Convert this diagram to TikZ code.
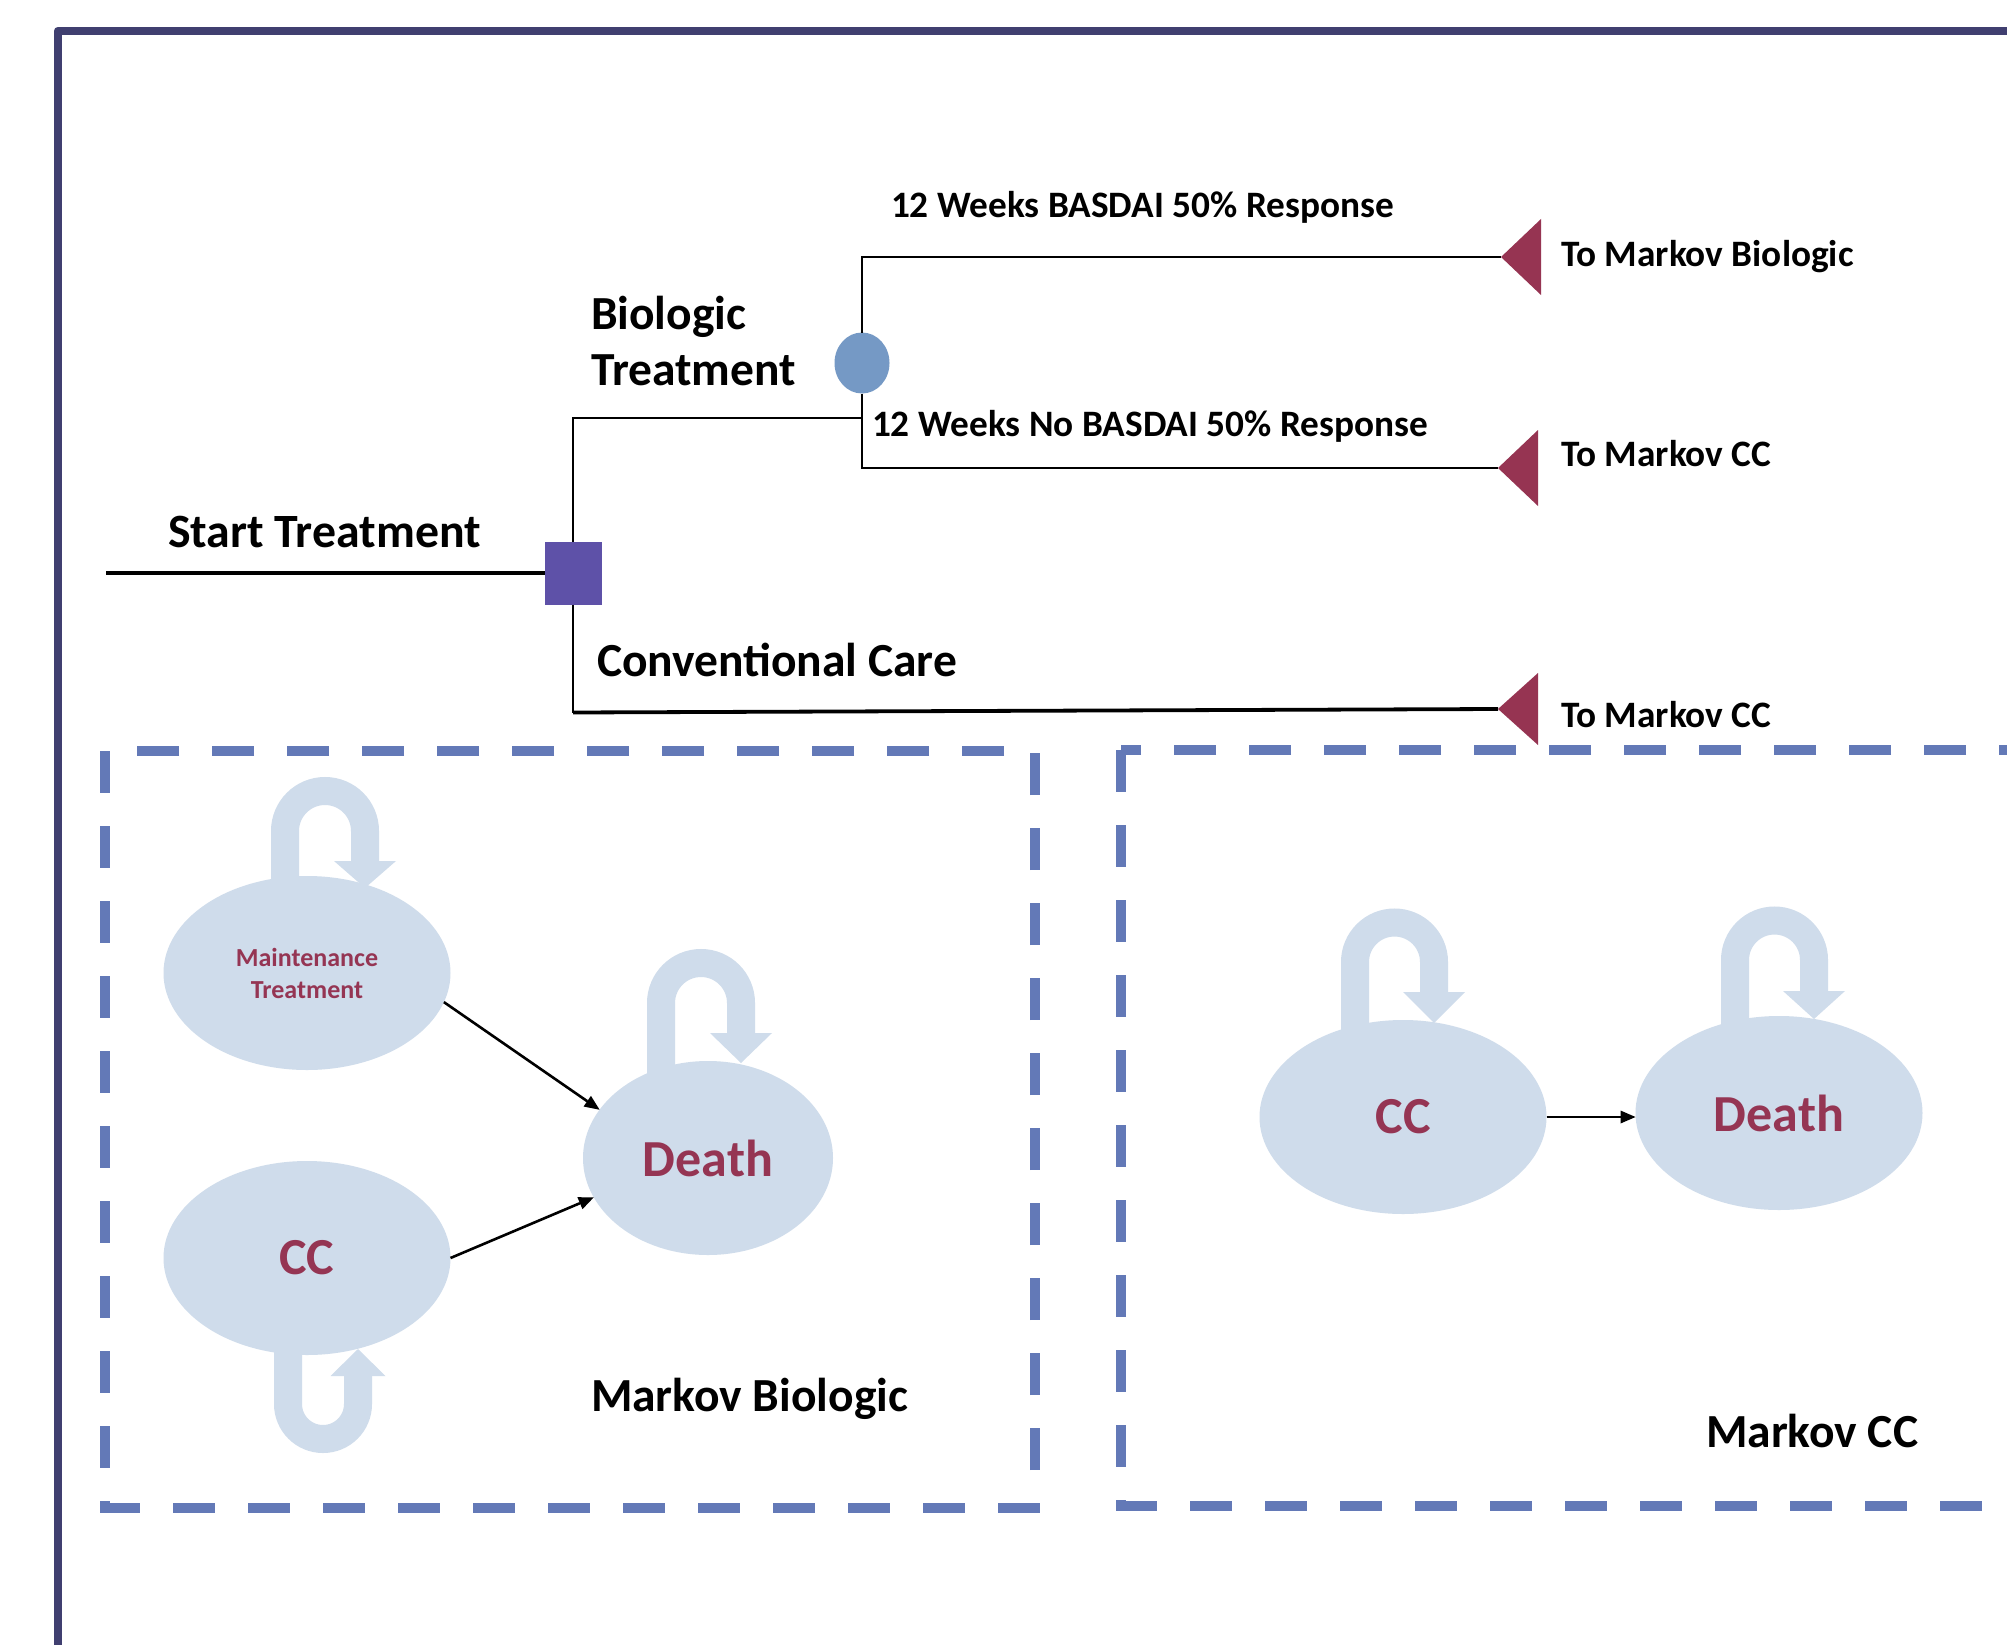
\documentclass[tikz,border=0pt]{standalone}
\usepackage{fontspec}
\setmainfont{Carlito}
\usetikzlibrary{arrows.meta,shapes.geometric}
\definecolor{framec}{HTML}{403F70}
\definecolor{dashc}{HTML}{6379B7}
\definecolor{ellc}{HTML}{CFDCEB}
\definecolor{maroonc}{HTML}{953553}
\definecolor{decc}{HTML}{5E51A8}
\definecolor{chancec}{HTML}{7599C5}
\definecolor{termc}{HTML}{963452}
\tikzset{
  lbl/.style={inner sep=0pt, outer sep=0pt, anchor=base west, font=\bfseries\fontsize{#1}{#1}\selectfont},
  tree/.style={draw=black, line width=3.4pt},
  term/.style={fill=termc},
  dbox/.style={draw=dashc, line width=9.5pt, dash pattern=on 42pt off 33pt},
  stateell/.style={ellipse, fill=ellc, inner sep=0pt, outer sep=0pt, minimum width=287pt, minimum height=194pt, text=maroonc, font=\bfseries\fontsize{52}{60}\selectfont},
  selfloop/.style={draw=ellc, line width=28pt, -{Triangle[length=#1, width=62pt, line width=0pt]}},
  trans/.style={draw=black, line width=2.6pt, -{Triangle[length=15pt, width=13pt, line width=0pt]}}
}
\begin{document}
\begin{tikzpicture}[x=1pt,y=-1pt]
\useasboundingbox (0,0) rectangle (2007,1645);
\clip (0,0) rectangle (2007,1645);
\fill[white] (0,0) rectangle (2007,1645);
% frame
\draw[framec, line width=8.5pt, line join=round] (58,1700) -- (58,31) -- (2100,31);

% decision tree
\coordinate (s0) at (106,573);
\node[rectangle, fill=decc, minimum width=57pt, minimum height=63pt, inner sep=0pt, outer sep=0pt] (dec) at (573,573) {};
\node[ellipse, fill=chancec, minimum width=55pt, minimum height=61pt, inner sep=0pt, outer sep=0pt] (chance) at (862,363) {};
\coordinate (j1) at (862,418);
\coordinate (t1) at (1501,257);
\coordinate (t2) at (1498,468);
\coordinate (t3) at (1498,709);

\draw[tree] (s0) -- (dec.west);
\draw[tree, line width=2.8pt] (dec.north) |- (j1);
\draw[tree, line width=2.8pt] (chance.north) |- (t1);
\draw[tree, line width=2.8pt] (chance.south) |- (t2);
\draw[tree, line width=2.8pt] (dec.south) -- ++(0,108) coordinate (j3);
\draw[tree, line width=3.8pt] (j3) -- (t3);

\fill[term] (t1) -- ++(40,-38) -- ++(0,76) -- cycle;
\fill[term] (t2) -- ++(40,-38) -- ++(0,76) -- cycle;
\fill[term] (t3) -- ++(40,-36) -- ++(0,72) -- cycle;

% tree labels
\node[lbl=37.3] (la) at (891,218) {12 Weeks BASDAI 50\% Response};
\node[lbl=37.3] (lb) at (1561,266) {To Markov Biologic};
\node[lbl=47.5] (lc1) at (591,329) {Biologic};
\node[lbl=47.5] (lc2) at (591,385) {Treatment};
\node[lbl=37.3] (ld) at (872,436) {12 Weeks No BASDAI 50\% Response};
\node[lbl=37.3] (le) at (1561,466) {To Markov CC};
\node[lbl=47.8] (lf) at (168,547) {Start Treatment};
\node[lbl=47.5] (lg) at (597,676) {Conventional Care};
\node[lbl=37.3] (lh) at (1561,727) {To Markov CC};

% dashed boxes
\draw[dbox] (105,751) rectangle (1035,1508);
\draw[dbox] (1121,750) rectangle (2100,1506);

% Markov biologic
\node[stateell, font=\bfseries\fontsize{26}{32}\selectfont, align=center] (mt) at (307,973) {Maintenance\\Treatment};
\node[stateell, minimum width=250pt] (d1) at (708,1158) {Death};
\node[stateell] (cc1) at (307,1258) {CC};

\draw[selfloop=27pt] (285,885) -- (285,831) arc (180:360:40) -- (365,888);
\draw[selfloop=30pt] (661,1075) -- (661,1003) arc (180:360:40) -- (741,1063);
\draw[selfloop=27pt, -{Triangle[length=27pt, width=55pt, line width=0pt]}] (288,1345) -- (288,1404) arc (180:0:35) -- (358,1349);

\draw[trans] (mt.-12) -- (d1.156.5);
\draw[trans] (cc1.east) -- (d1.199);

\node[lbl=47.5] (mb) at (591,1411) {Markov Biologic};

% Markov CC
\node[stateell] (cc2) at (1403,1117) {CC};
\node[stateell] (d2) at (1779,1113) {Death};
\draw[selfloop=31pt] (1355,1032) -- (1355,962) arc (180:360:39.5) -- (1434,1023);
\draw[selfloop=28pt] (1735,1028) -- (1735,960) arc (180:360:39.5) -- (1814,1019);
\draw[trans] (cc2.east) -- (cc2.east -| d2.west);

\node[lbl=47.5] (mc) at (1706,1447) {Markov CC};
\end{tikzpicture}
\end{document}
